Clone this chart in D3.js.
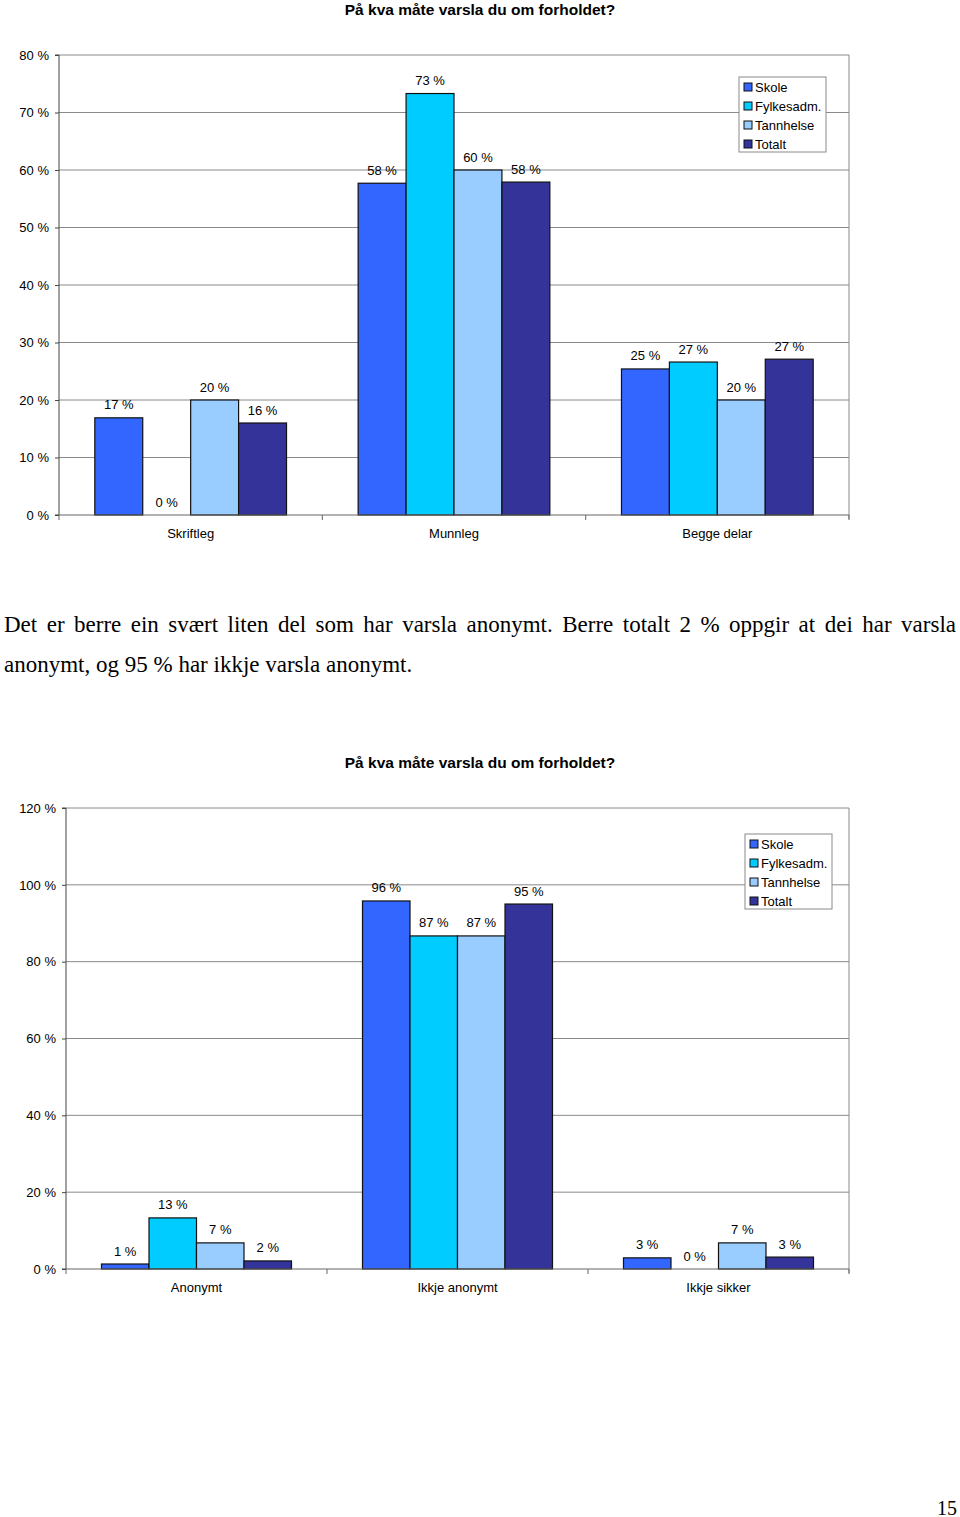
<!DOCTYPE html>
<html>
<head>
<meta charset="utf-8">
<script src="https://cdn.jsdelivr.net/npm/d3@7"></script>
<style>
  body { margin: 0; background: #fff; width: 960px; height: 1517px; position: relative; overflow: hidden; }
  svg { position: absolute; left: 0; top: 0; }
  .para { position: absolute; left: 4px; width: 952px; font-family: "Liberation Serif", "Times New Roman", serif; font-size: 23px; color: #000; white-space: nowrap; }
  .justify { text-align: justify; text-align-last: justify; }
  .pageno { position: absolute; left: 937px; top: 1497px; font-family: "Liberation Serif", serif; font-size: 20px; }
</style>
</head>
<body>
<div class="para justify" style="top:612px">Det er berre ein svært liten del som har varsla anonymt. Berre totalt 2 % oppgir at dei har varsla</div>
<div class="para" style="top:652px">anonymt, og 95 % har ikkje varsla anonymt.</div>
<div class="pageno">15</div>
<script>
var series = ["Skole", "Fylkesadm.", "Tannhelse", "Totalt"];
var colors = ["#3366FF", "#00CCFF", "#99CCFF", "#333399"];
var title = "På kva måte varsla du om forholdet?";

// chart 1: how was it reported
var cats1 = ["Skriftleg", "Munnleg", "Begge delar"];
var skole1 = [16.9, 57.7, 25.4];
var fylke1 = [0, 73.3, 26.6];
var tann1 = [20, 60, 20];
var totalt1 = [16, 57.9, 27.1];
var yTicks1 = [0, 10, 20, 30, 40, 50, 60, 70, 80];

// chart 2: anonymous or not
var cats2 = ["Anonymt", "Ikkje anonymt", "Ikkje sikker"];
var skole2 = [1.3, 95.8, 2.9];
var fylke2 = [13.3, 86.7, 0];
var tann2 = [6.8, 86.7, 6.8];
var totalt2 = [2.1, 95, 3.1];
var yTicks2 = [0, 20, 40, 60, 80, 100, 120];

var svg = d3.select("body").append("svg")
    .attr("width", 960)
    .attr("height", 1517);

function drawChart(cfg) {
  var g = svg.append("g");
  var x0 = d3.scaleBand().domain(cfg.cats).range([cfg.left, cfg.right]);
  var pad = x0.bandwidth() * 0.136;
  var x1 = d3.scaleBand().domain(series).range([pad, x0.bandwidth() - pad]);
  var y = d3.scaleLinear().domain([0, d3.max(cfg.ticks)]).range([cfg.bottom, cfg.top]);

  // title
  g.append("text")
      .attr("x", 480)
      .attr("y", cfg.titleY)
      .attr("text-anchor", "middle")
      .attr("dominant-baseline", "central")
      .style("font-family", "Liberation Sans, Arial, sans-serif")
      .style("font-weight", "bold")
      .style("font-size", "15.5px")
      .text(title);

  // gridlines
  g.append("g")
      .selectAll("line")
      .data(cfg.ticks.filter(function(d) { return d > 0; }))
      .enter().append("line")
      .attr("x1", cfg.left).attr("x2", cfg.right)
      .attr("y1", function(d) { return y(d); })
      .attr("y2", function(d) { return y(d); })
      .attr("stroke", "#8a8a8a")
      .attr("stroke-width", 1);

  // right border of plot area
  g.append("line")
      .attr("x1", cfg.right).attr("x2", cfg.right)
      .attr("y1", cfg.top).attr("y2", cfg.bottom + 4)
      .attr("stroke", "#8a8a8a");

  // bars
  var rows = series.map(function(s, i) {
    return { name: s, color: colors[i], values: cfg.values[i] };
  });
  var groups = g.append("g").selectAll("g")
      .data(cfg.cats)
      .enter().append("g")
      .attr("transform", function(d) { return "translate(" + x0(d) + ",0)"; });

  groups.each(function(cat, ci) {
    var grp = d3.select(this);
    rows.forEach(function(r) {
      var v = r.values[ci];
      if (v > 0) {
        grp.append("rect")
            .attr("x", x1(r.name))
            .attr("y", y(v))
            .attr("width", x1.bandwidth())
            .attr("height", y(0) - y(v))
            .attr("fill", r.color)
            .attr("stroke", "#111")
            .attr("stroke-width", 1.2);
      }
      grp.append("text")
          .attr("x", x1(r.name) + x1.bandwidth() / 2)
          .attr("y", y(v) - 13)
          .attr("text-anchor", "middle")
          .attr("dominant-baseline", "central")
          .style("font-family", "Liberation Sans, Arial, sans-serif")
          .style("font-size", "13px")
          .text(Math.round(v) + " %");
    });
  });

  // y axis
  var yAxis = g.append("g")
      .attr("transform", "translate(" + cfg.left + ",0)")
      .call(d3.axisLeft(y).tickValues(cfg.ticks).tickSize(4).tickPadding(6)
        .tickFormat(function(d) { return d + " %"; }));
  yAxis.select(".domain").attr("stroke", "#444").attr("d", "M-4," + cfg.top + "H0V" + cfg.bottom + "H-4");
  yAxis.selectAll(".tick line").attr("stroke", "#444");
  yAxis.selectAll("text")
      .style("font-family", "Liberation Sans, Arial, sans-serif")
      .style("font-size", "13px")
      .attr("fill", "#000");

  // x axis
  var xg = g.append("g").attr("transform", "translate(0," + cfg.bottom + ")");
  xg.append("line")
      .attr("x1", cfg.left).attr("x2", cfg.right)
      .attr("stroke", "#666");
  xg.selectAll(".xtick")
      .data(cfg.cats.map(function(c) { return x0(c); }).concat([cfg.right]))
      .enter().append("line")
      .attr("x1", function(d) { return d; })
      .attr("x2", function(d) { return d; })
      .attr("y1", 0).attr("y2", 5)
      .attr("stroke", "#666");
  xg.selectAll(".xlab")
      .data(cfg.cats)
      .enter().append("text")
      .attr("x", function(d) { return x0(d) + x0.bandwidth() / 2; })
      .attr("y", 18)
      .attr("text-anchor", "middle")
      .attr("dominant-baseline", "central")
      .style("font-family", "Liberation Sans, Arial, sans-serif")
      .style("font-size", "13px")
      .text(function(d) { return d; });

  // legend
  var lg = g.append("g").attr("transform", "translate(" + cfg.legendX + "," + cfg.legendY + ")");
  lg.append("rect")
      .attr("width", 87).attr("height", 75)
      .attr("fill", "#fff")
      .attr("stroke", "#8a8a8a");
  series.forEach(function(s, i) {
    lg.append("rect")
        .attr("x", 5).attr("y", 6 + i * 19)
        .attr("width", 8).attr("height", 8)
        .attr("fill", colors[i])
        .attr("stroke", "#111");
    lg.append("text")
        .attr("x", 16).attr("y", 10 + i * 19)
        .attr("dominant-baseline", "central")
        .style("font-family", "Liberation Sans, Arial, sans-serif")
        .style("font-size", "13px")
        .text(s);
  });
}

drawChart({
  cats: cats1, values: [skole1, fylke1, tann1, totalt1], ticks: yTicks1,
  left: 59, right: 849, top: 55, bottom: 515,
  titleY: 9, legendX: 739, legendY: 77
});

drawChart({
  cats: cats2, values: [skole2, fylke2, tann2, totalt2], ticks: yTicks2,
  left: 66, right: 849, top: 808, bottom: 1269,
  titleY: 762, legendX: 745, legendY: 834
});
</script>
</body>
</html>
